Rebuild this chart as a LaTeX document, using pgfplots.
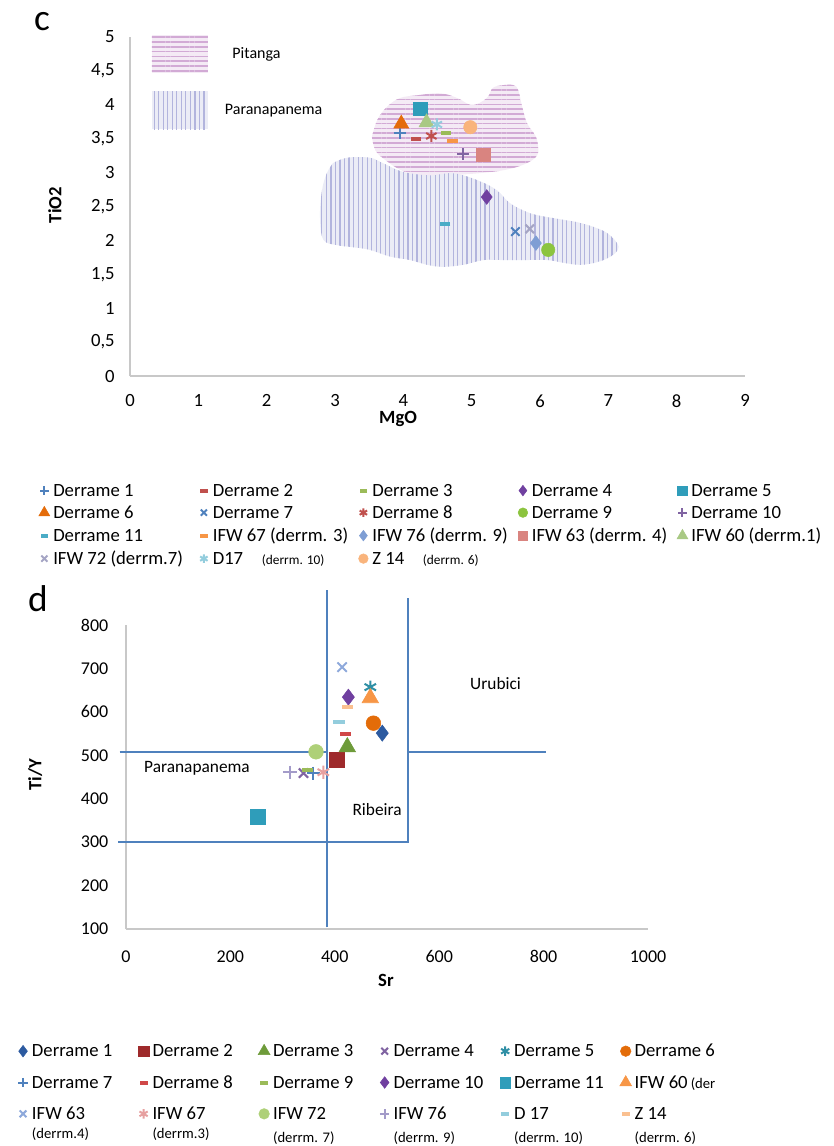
\documentclass[border=0pt]{standalone}
\usepackage{pgfplots}
\pgfplotsset{compat=1.18}
\usepackage{fontspec}
\setmainfont{Carlito}
\usetikzlibrary{patterns,patterns.meta}
% colours
\definecolor{cBlue}{HTML}{4F81BD}
\definecolor{cRed}{HTML}{C0504D}
\definecolor{cGreen}{HTML}{9BBB59}
\definecolor{cPurple}{HTML}{7040A0}
\definecolor{cTeal}{HTML}{2F9DBA}
\definecolor{cOrange}{HTML}{E46C0A}
\definecolor{cGreenB}{HTML}{8CC43F}
\definecolor{cLav}{HTML}{8064A2}
\definecolor{cLBlue}{HTML}{4BACC6}
\definecolor{cLOrange}{HTML}{F79646}
\definecolor{cIFWsev}{HTML}{7F9ED4}
\definecolor{cIFWsix}{HTML}{D98480}
\definecolor{cIFWsixty}{HTML}{A9C984}
\definecolor{cIFWsevtwo}{HTML}{A5A5C4}
\definecolor{cDseventeen}{HTML}{93CDDD}
\definecolor{cZfourteen}{HTML}{F9B47C}
\definecolor{bDone}{HTML}{2C5AA0}
\definecolor{bDtwo}{HTML}{9E2A2B}
\definecolor{bDthree}{HTML}{6E9B3A}
\definecolor{bDfive}{HTML}{2F8FA5}
\definecolor{bDsix}{HTML}{E36C09}
\definecolor{bDeight}{HTML}{D04848}
\definecolor{bIsixtythree}{HTML}{8EA9DB}
\definecolor{bIsixtyseven}{HTML}{E6A0A0}
\definecolor{bIseventytwo}{HTML}{AED078}
\definecolor{bIseventysix}{HTML}{A39BC9}
\definecolor{bZ}{HTML}{FAC090}
\definecolor{pitFill}{HTML}{F4EAF5}
\definecolor{pitLine}{HTML}{D2AAD5}
\definecolor{parFill}{HTML}{EBECF6}
\definecolor{parLine}{HTML}{B2B4DD}
\definecolor{axGray}{HTML}{C8C8C8}
\newcommand\lgA[1]{\makebox[106.25pt][l]{\strut #1}}
\newcommand\lgB[1]{\makebox[77pt][l]{\strut #1}}
\newcommand\sm[1]{{\fontsize{10}{12}\selectfont #1}}
\newcommand\smB[1]{{\fontsize{11}{12}\selectfont #1}}
\begin{document}
\begin{tikzpicture}
\pgfplotsset{
  common/.style={
    scale only axis,
    axis lines*=left,
    axis line style={-, draw=axGray, line width=1.1pt},
    major tick length=0pt,
    clip=false,
    /pgf/number format/assume math mode=true,
    /pgf/number format/1000 sep={},
    label style={font=\fontsize{14}{16}\selectfont\bfseries},
    every axis plot post/.append style={legend image code/.code={\path (-1pt,4.3pt) (9pt,4.3pt);\draw[mark repeat=2,mark phase=2,##1,only marks,every mark/.append style={scale=0.72}] plot coordinates {(0pt,4.3pt)(4pt,4.3pt)(8pt,4.3pt)};}},
    legend cell align=left,
  },
  sq/.style={only marks, mark=square*, mark size=5pt, color=#1},
  ci/.style={only marks, mark=*, mark size=5pt, color=#1},
  tr/.style={only marks, mark=triangle*, mark size=6.5pt, color=#1},
  di/.style={only marks, mark=diamond*, mark size=5.5pt, color=#1},
  pl/.style={only marks, mark=+, mark size=4.5pt, color=#1, mark options={line width=1.5pt}},
  xx/.style={only marks, mark=x, mark size=4.5pt, color=#1, mark options={line width=1.5pt}},
  as/.style={only marks, mark=asterisk, mark size=4.5pt, color=#1, mark options={line width=1.5pt}},
  da/.style={only marks, mark=-, mark size=3.8pt, color=#1, mark options={line width=3pt}},
}
% ---------------- panel c ----------------
\begin{axis}[common,
  at={(97.5pt,-282pt)}, anchor=south west,
  width=461.25pt, height=254.25pt,
  xmin=0, xmax=9, ymin=0, ymax=5,
  xtick={0,1,...,9},
  ytick={0,0.5,...,5},
  /pgf/number format/use comma,
  tick label style={font=\fontsize{14}{16}\selectfont},
  xticklabel style={yshift=-10.5pt},
  yticklabel style={xshift=-8pt},
  xlabel={MgO}, ylabel={TiO2},
  xlabel style={at={(axis description cs:0.436,-0.126)}, anchor=center},
  ylabel style={at={(axis description cs:-0.122,0.504)}, anchor=center},
  legend columns=5,
  legend style={at={(axis description cs:-0.151,-0.311)}, anchor=north west,
    draw=none, fill=none, inner sep=0pt, nodes={inner sep=1.5pt, anchor=base west},
    column sep=0pt, row sep=2.5pt, font=\fontsize{14}{13.5}\selectfont},
]
% regions
\addplot[forget plot, draw=none, fill=pitFill,
  postaction={pattern={Lines[angle=0,distance=3.6pt,line width=1.1pt]}, pattern color=pitLine}, smooth, tension=0.6]
coordinates {(3.54,3.53) (3.62,3.78) (3.76,3.97) (3.95,4.10) (4.20,4.14) (4.54,4.17) (4.79,4.10) (4.98,4.00) (5.12,4.03) (5.24,4.12) (5.31,4.25) (5.46,4.29) (5.61,4.29) (5.68,4.22) (5.74,3.97) (5.81,3.73) (5.93,3.55) (5.97,3.41) (5.96,3.26) (5.81,3.14) (5.49,3.04) (4.98,2.98) (4.35,2.95) (4.00,3.02) (3.73,3.19) (3.59,3.33) (3.54,3.53)};
\addplot[forget plot, draw=none, fill=parFill,
  postaction={pattern={Lines[angle=90,distance=3.4pt,line width=0.9pt]}, pattern color=parLine}, smooth, tension=0.6]
coordinates {(2.97,3.14) (3.18,3.22) (3.51,3.22) (3.70,3.14) (4.00,3.01) (4.39,2.96) (4.73,2.99) (5.08,2.89) (5.37,2.74) (5.56,2.55) (5.86,2.40) (6.19,2.33) (6.54,2.27) (6.78,2.20) (6.98,2.11) (7.13,1.96) (7.14,1.86) (7.03,1.76) (6.84,1.68) (6.59,1.64) (6.34,1.67) (6.11,1.71) (5.75,1.71) (5.46,1.71) (5.17,1.71) (4.88,1.64) (4.58,1.61) (4.35,1.64) (4.10,1.71) (3.81,1.76) (3.51,1.86) (3.26,1.90) (3.03,1.93) (2.83,2.01) (2.78,2.35) (2.81,2.74) (2.88,2.99) (2.97,3.14)};
% key swatches
\addplot[forget plot, draw=none, fill=pitFill,
  postaction={pattern={Lines[angle=0,distance=3.6pt,line width=1.1pt]}, pattern color=pitLine}]
coordinates {(0.32,5.03) (1.14,5.03) (1.14,4.47) (0.32,4.47)} -- cycle;
\addplot[forget plot, draw=none, fill=parFill,
  postaction={pattern={Lines[angle=90,distance=3.4pt,line width=0.9pt]}, pattern color=parLine}]
coordinates {(0.32,4.20) (1.14,4.20) (1.14,3.64) (0.32,3.64)} -- cycle;
\node[anchor=west, font=\fontsize{12}{14}\selectfont] at (axis cs:1.43,4.75) {Pitanga};
\node[anchor=west, font=\fontsize{12}{14}\selectfont] at (axis cs:1.32,3.92) {Paranapanema};
% data
\addplot[pl=cBlue] coordinates {(3.95,3.58)}; \addlegendentry{\lgA{Derrame 1}}
\addplot[da=cRed] coordinates {(4.19,3.50)}; \addlegendentry{\lgA{Derrame 2}}
\addplot[da=cGreen] coordinates {(4.62,3.58)}; \addlegendentry{\lgA{Derrame 3}}
\addplot[di=cPurple] coordinates {(5.22,2.64)}; \addlegendentry{\lgA{Derrame 4}}
\addplot[sq=cTeal] coordinates {(4.25,3.94)}; \addlegendentry{\lgA{Derrame 5}}
\addplot[tr=cOrange] coordinates {(3.97,3.72)}; \addlegendentry{\lgA{Derrame 6}}
\addplot[xx=cBlue] coordinates {(5.64,2.13)}; \addlegendentry{\lgA{Derrame 7}}
\addplot[as=cRed] coordinates {(4.41,3.54)}; \addlegendentry{\lgA{Derrame 8}}
\addplot[ci=cGreenB] coordinates {(6.12,1.86)}; \addlegendentry{\lgA{Derrame 9}}
\addplot[pl=cLav] coordinates {(4.88,3.27)}; \addlegendentry{\lgA{Derrame 10}}
\addplot[da=cLBlue] coordinates {(4.61,2.24)}; \addlegendentry{\lgA{Derrame 11}}
\addplot[da=cLOrange] coordinates {(4.72,3.47)}; \addlegendentry{\lgA{IFW 67 (derrm. 3)}}
\addplot[di=cIFWsev] coordinates {(5.94,1.96)}; \addlegendentry{\lgA{IFW 76 (derrm. 9)}}
\addplot[sq=cIFWsix] coordinates {(5.17,3.26)}; \addlegendentry{\lgA{IFW 63 (derrm. 4)}}
\addplot[tr=cIFWsixty] coordinates {(4.34,3.74)}; \addlegendentry{\lgA{IFW 60 (derrm.1)}}
\addplot[xx=cIFWsevtwo] coordinates {(5.85,2.17)}; \addlegendentry{\lgA{IFW 72 (derrm.7)}}
\addplot[as=cDseventeen] coordinates {(4.49,3.71)}; \addlegendentry{\lgA{D17\quad\sm{(derrm. 10)}}}
\addplot[ci=cZfourteen] coordinates {(4.98,3.67)}; \addlegendentry{\lgA{Z 14\quad\sm{(derrm. 6)}}}
\end{axis}
% ---------------- panel d ----------------
\begin{axis}[common,
  at={(94.5pt,-696.75pt)}, anchor=south west,
  width=391.5pt, height=228pt,
  xmin=0, xmax=1000, ymin=100, ymax=800,
  xtick={0,200,...,1000},
  ytick={100,200,...,800},
  tick label style={font=\fontsize{13.5}{16}\selectfont},
  xticklabel style={yshift=-12.5pt},
  yticklabel style={xshift=-9.75pt},
  xlabel={Sr}, ylabel={Ti/Y},
  xlabel style={at={(axis description cs:0.498,-0.168)}, anchor=center},
  ylabel style={at={(axis description cs:-0.174,0.507)}, anchor=center},
  every axis plot post/.append style={every mark/.append style={scale=1.1}},
  legend columns=6,
  legend style={at={(axis description cs:-0.211,-0.358)}, anchor=north west,
    draw=none, fill=none, inner sep=0pt, nodes={inner sep=1.5pt, anchor=base west},
    column sep=0pt, row sep=6.4pt, font=\fontsize{14}{18}\selectfont},
]
\addplot[forget plot, color=cBlue, line width=1.4pt] coordinates {(385,104) (385,880)};
\addplot[forget plot, color=cBlue, line width=1.4pt] coordinates {(540,298) (540,862)};
\addplot[forget plot, color=cBlue, line width=1.4pt] coordinates {(-12,508) (385,508)};
\addplot[forget plot, color=cBlue, line width=1.4pt] coordinates {(540,508) (805,508)};
\addplot[forget plot, color=cBlue, line width=1.4pt] coordinates {(-15,300) (540,300)};
\node[font=\fontsize{13}{15}\selectfont] at (axis cs:136,471) {Paranapanema};
\node[font=\fontsize{13}{15}\selectfont] at (axis cs:481,374) {Ribeira};
\node[font=\fontsize{13}{15}\selectfont] at (axis cs:708,666) {Urubici};
\addplot[di=bDone] coordinates {(491,551)}; \addlegendentry{\lgB{Derrame 1}}
\addplot[sq=bDtwo] coordinates {(404,489)}; \addlegendentry{\lgB{Derrame 2}}
\addplot[tr=bDthree] coordinates {(424,519)}; \addlegendentry{\lgB{Derrame 3}}
\addplot[xx=cLav] coordinates {(340,459)}; \addlegendentry{\lgB{Derrame 4}}
\addplot[as=bDfive] coordinates {(468,657)}; \addlegendentry{\lgB{Derrame 5}}
\addplot[ci=bDsix] coordinates {(474,574)}; \addlegendentry{\lgB{Derrame 6}}
\addplot[pl=cBlue] coordinates {(359,459)}; \addlegendentry{\lgB{Derrame 7}}
\addplot[da=bDeight] coordinates {(420,549)}; \addlegendentry{\lgB{Derrame 8}}
\addplot[da=cGreen] coordinates {(347,466)}; \addlegendentry{\lgB{Derrame 9}}
\addplot[di=cPurple] coordinates {(426,634)}; \addlegendentry{\lgB{Derrame 10}}
\addplot[sq=cTeal] coordinates {(253,358)}; \addlegendentry{\lgB{Derrame 11}}
\addplot[tr=cLOrange] coordinates {(468,632)}; \addlegendentry{\lgB{IFW 60\,\smB{(der}}}
\addplot[xx=bIsixtythree] coordinates {(414,703)}; \addlegendentry{\lgB{\begin{tabular}[t]{@{}l@{}}IFW 63\\[-4pt]\smB{(derrm.4)}\end{tabular}}}
\addplot[as=bIsixtyseven] coordinates {(378,461)}; \addlegendentry{\lgB{\begin{tabular}[t]{@{}l@{}}IFW 67\\[-4pt]\smB{(derrm.3)}\end{tabular}}}
\addplot[ci=bIseventytwo] coordinates {(364,508)}; \addlegendentry{\lgB{\begin{tabular}[t]{@{}l@{}}IFW 72\\[-1pt]\smB{(derrm. 7)}\end{tabular}}}
\addplot[pl=bIseventysix] coordinates {(314,461)}; \addlegendentry{\lgB{\begin{tabular}[t]{@{}l@{}}IFW 76\\[-1pt]\smB{(derrm. 9)}\end{tabular}}}
\addplot[da=cDseventeen] coordinates {(408,577)}; \addlegendentry{\lgB{\begin{tabular}[t]{@{}l@{}}D 17\\[-1pt]\smB{(derrm. 10)}\end{tabular}}}
\addplot[da=bZ] coordinates {(424,611)}; \addlegendentry{\lgB{\begin{tabular}[t]{@{}l@{}}Z 14\\[-1pt]\smB{(derrm. 6)}\end{tabular}}}
\end{axis}
\node[font=\fontsize{28}{30}\selectfont] at (31.5pt,-16pt) {c};
\node[font=\fontsize{28}{30}\selectfont] at (28.5pt,-449pt) {d};
\pgfresetboundingbox
\useasboundingbox (0pt,0pt) rectangle (625.5pt,-859.5pt);
\end{tikzpicture}
\end{document}
